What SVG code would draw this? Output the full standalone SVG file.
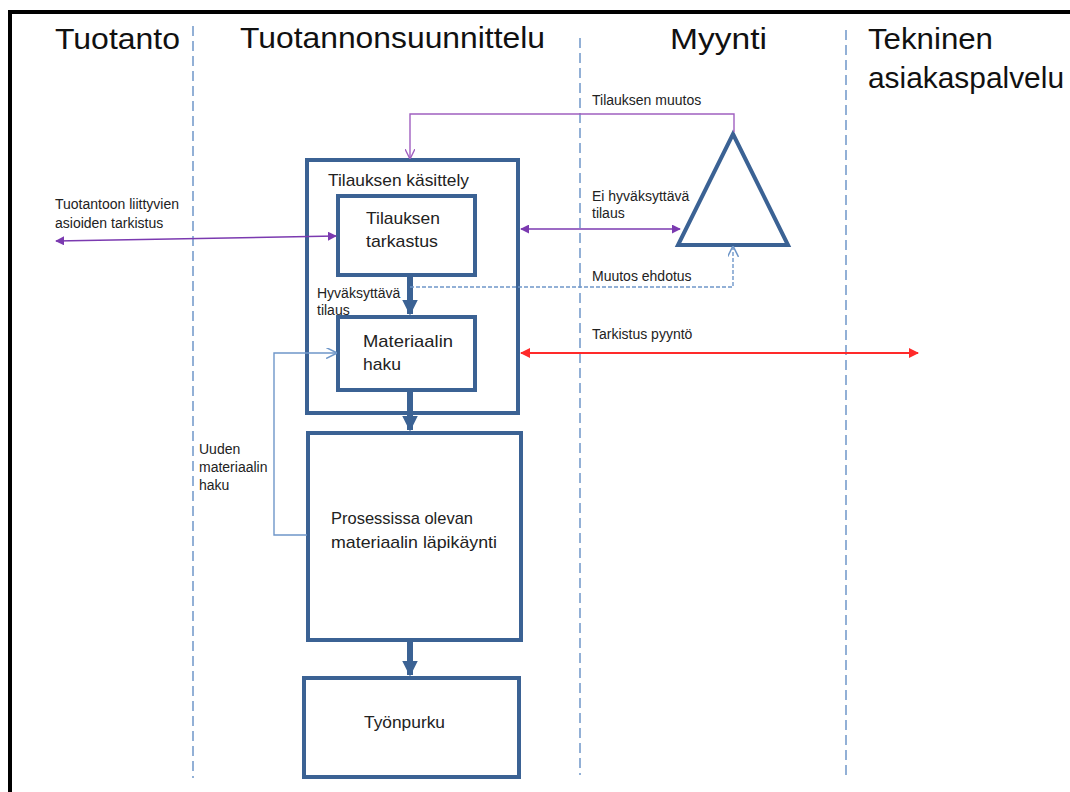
<svg xmlns="http://www.w3.org/2000/svg" width="1070" height="792" viewBox="0 0 1070 792">
  <style>
    .frame { fill: none; stroke: #000; stroke-width: 4; }
    .lane { stroke: #6f97c9; stroke-width: 1.5; stroke-dasharray: 10 5; }
    .title { font-family: "Liberation Sans", Arial, sans-serif; font-size: 29px; fill: #111; }
    .box { fill: #fff; stroke: #3b6294; stroke-width: 4; }
    .tri { fill: #fff; stroke: #3b6294; stroke-width: 4; stroke-linejoin: miter; }
    .label { font-family: "Liberation Sans", Arial, sans-serif; font-size: 17px; fill: #222; }
    .small { font-family: "Liberation Sans", Arial, sans-serif; font-size: 14px; fill: #222; }
    .flow { stroke: #3b6294; stroke-width: 6; fill: none; }
    .purple { stroke: #7b3ab0; stroke-width: 1.6; fill: none; }
    .violet { stroke: #a060c0; stroke-width: 1.4; fill: none; }
    .red { stroke: #ff2a2a; stroke-width: 2; fill: none; }
    .blue { stroke: #6f97c9; stroke-width: 1.4; fill: none; }
    .blue-dash { stroke: #6f97c9; stroke-width: 1.4; fill: none; stroke-dasharray: 4 2; }
  </style>
  <defs>
    <marker id="flowHead" viewBox="0 0 10 10" refX="9" refY="5" markerWidth="2.6" markerHeight="2.6" orient="auto" markerUnits="strokeWidth">
      <path d="M0,0 L10,5 L0,10 Z" fill="#3b6294"/>
    </marker>
    <marker id="purpleEnd" viewBox="0 0 10 10" refX="9" refY="5" markerWidth="9" markerHeight="9" orient="auto-start-reverse" markerUnits="userSpaceOnUse">
      <path d="M0,0 L10,5 L0,10 Z" fill="#7b3ab0"/>
    </marker>
    <marker id="redEnd" viewBox="0 0 10 10" refX="9" refY="5" markerWidth="10" markerHeight="10" orient="auto-start-reverse" markerUnits="userSpaceOnUse">
      <path d="M0,0 L10,5 L0,10 Z" fill="#ff2a2a"/>
    </marker>
    <marker id="violetOpen" viewBox="0 0 10 10" refX="9" refY="5" markerWidth="10" markerHeight="10" orient="auto" markerUnits="userSpaceOnUse">
      <path d="M0,0 L10,5 L0,10" fill="none" stroke="#a060c0" stroke-width="1.4"/>
    </marker>
    <marker id="blueOpen" viewBox="0 0 10 10" refX="9" refY="5" markerWidth="11" markerHeight="11" orient="auto" markerUnits="userSpaceOnUse">
      <path d="M0,0 L10,5 L0,10" fill="none" stroke="#6f97c9" stroke-width="1.4"/>
    </marker>
  </defs>

  <rect width="1070" height="792" fill="#fff"/>

  <!-- page frame -->
  <path class="frame" d="M10,792 L10,12 L1072,12"/>

  <!-- swimlane separators -->
  <g id="lanes">
    <line class="lane" x1="193" y1="26" x2="193" y2="778"/>
    <line class="lane" x1="580" y1="38" x2="580" y2="775"/>
    <line class="lane" x1="846" y1="30" x2="846" y2="778"/>
  </g>

  <!-- lane titles -->
  <g id="titles">
    <text class="title" x="55" y="49" textLength="125" lengthAdjust="spacingAndGlyphs">Tuotanto</text>
    <text class="title" x="240" y="48" textLength="305" lengthAdjust="spacingAndGlyphs">Tuotannonsuunnittelu</text>
    <text class="title" x="670" y="49" textLength="97" lengthAdjust="spacingAndGlyphs">Myynti</text>
    <text class="title" x="868" y="49" textLength="125" lengthAdjust="spacingAndGlyphs">Tekninen</text>
    <text class="title" x="868" y="88" textLength="196" lengthAdjust="spacingAndGlyphs">asiakaspalvelu</text>
  </g>

  <!-- nodes -->
  <g id="tilauksen-kasittely">
    <rect class="box" x="307" y="160" width="211" height="253"/>
    <text class="label" x="328" y="186" font-size="16" textLength="141" lengthAdjust="spacingAndGlyphs">Tilauksen käsittely</text>
  </g>
  <g id="tilauksen-tarkastus">
    <rect class="box" x="338" y="196" width="137" height="79"/>
    <text class="label" x="366" y="224" font-size="18" textLength="74" lengthAdjust="spacingAndGlyphs">Tilauksen</text>
    <text class="label" x="366" y="247" font-size="18" textLength="72" lengthAdjust="spacingAndGlyphs">tarkastus</text>
  </g>
  <g id="materiaalin-haku">
    <rect class="box" x="338" y="317" width="137" height="73"/>
    <text class="label" x="363" y="347" font-size="18" textLength="90" lengthAdjust="spacingAndGlyphs">Materiaalin</text>
    <text class="label" x="363" y="370" font-size="18" textLength="38" lengthAdjust="spacingAndGlyphs">haku</text>
  </g>
  <g id="prosessissa">
    <rect class="box" x="308" y="433" width="213" height="207"/>
    <text class="label" x="331" y="524" textLength="142" lengthAdjust="spacingAndGlyphs">Prosessissa olevan</text>
    <text class="label" x="331" y="548" textLength="166" lengthAdjust="spacingAndGlyphs">materiaalin läpikäynti</text>
  </g>
  <g id="tyonpurku">
    <rect class="box" x="304" y="678" width="215" height="99"/>
    <text class="label" x="364" y="728" font-size="16" textLength="81" lengthAdjust="spacingAndGlyphs">Työnpurku</text>
  </g>
  <g id="myynti-paatos">
    <path class="tri" d="M733,134 L788,245 L678,245 Z"/>
  </g>

  <!-- connectors -->
  <g id="connectors">
    <line class="flow" x1="410" y1="277" x2="410" y2="314" marker-end="url(#flowHead)"/>
    <line class="flow" x1="410" y1="392" x2="410" y2="430" marker-end="url(#flowHead)"/>
    <line class="flow" x1="410" y1="642" x2="410" y2="675" marker-end="url(#flowHead)"/>

    <polyline class="violet" points="734,132 734,114 410,114 410,158" marker-end="url(#violetOpen)"/>
    <line class="purple" x1="56" y1="241" x2="336" y2="236" marker-start="url(#purpleEnd)" marker-end="url(#purpleEnd)"/>
    <line class="purple" x1="521" y1="229" x2="680" y2="229" marker-start="url(#purpleEnd)" marker-end="url(#purpleEnd)"/>
    <polyline class="blue-dash" points="410,287 733,287 733,247" marker-end="url(#blueOpen)"/>
    <line class="red" x1="521" y1="353" x2="918" y2="353" marker-start="url(#redEnd)" marker-end="url(#redEnd)"/>
    <polyline class="blue" points="307,535 274,535 274,353 336,353" marker-end="url(#blueOpen)"/>
  </g>

  <!-- connector labels -->
  <g id="connector-labels">
    <text class="small" x="592" y="105">Tilauksen muutos</text>
    <text class="small" x="55" y="209">Tuotantoon liittyvien</text>
    <text class="small" x="55" y="228">asioiden tarkistus</text>
    <text class="small" x="592" y="201">Ei hyväksyttävä</text>
    <text class="small" x="592" y="218">tilaus</text>
    <text class="small" x="592" y="281">Muutos ehdotus</text>
    <text class="small" x="317" y="298">Hyväksyttävä</text>
    <text class="small" x="317" y="315">tilaus</text>
    <text class="small" x="592" y="339">Tarkistus pyyntö</text>
    <text class="small" x="199" y="454">Uuden</text>
    <text class="small" x="199" y="472">materiaalin</text>
    <text class="small" x="199" y="490">haku</text>
  </g>
</svg>
